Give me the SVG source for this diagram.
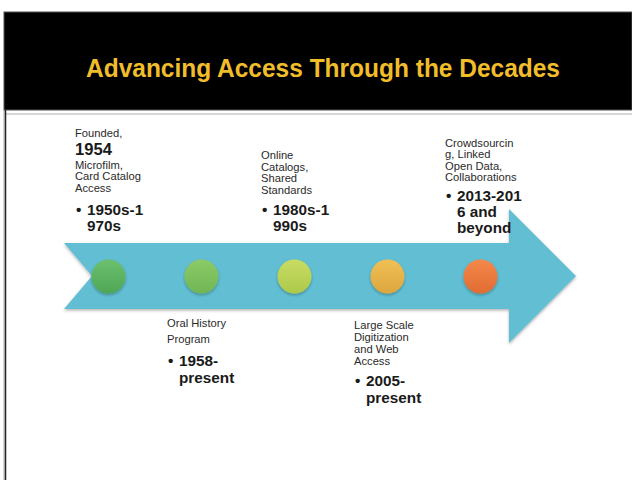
<svg xmlns="http://www.w3.org/2000/svg" width="632" height="480" viewBox="0 0 632 480">
  <style>
    .t { font-family: "Liberation Sans", Arial, sans-serif; fill: #1a1a1a; }
    .s { font-size: 11.2px; fill: #2a2a2a; }
    .b { font-size: 15.3px; font-weight: bold; }
    .title { font-family: "Liberation Sans", Arial, sans-serif; font-size: 25.5px; font-weight: bold; fill: #F1BD2B; }
  </style>
  <defs>
    <filter id="shadow" x="-20%" y="-20%" width="140%" height="150%">
      <feDropShadow dx="0" dy="1.5" stdDeviation="1.5" flood-color="#000" flood-opacity="0.3"/>
    </filter>
    <linearGradient id="g1" x1="0" y1="0" x2="0" y2="1">
      <stop offset="0" stop-color="#6CC06E"/><stop offset="1" stop-color="#4EA655"/>
    </linearGradient>
    <linearGradient id="g2" x1="0" y1="0" x2="0" y2="1">
      <stop offset="0" stop-color="#8CCB66"/><stop offset="1" stop-color="#70B555"/>
    </linearGradient>
    <linearGradient id="g3" x1="0" y1="0" x2="0" y2="1">
      <stop offset="0" stop-color="#C8DC63"/><stop offset="1" stop-color="#ADC94A"/>
    </linearGradient>
    <linearGradient id="g4" x1="0" y1="0" x2="0" y2="1">
      <stop offset="0" stop-color="#F0C055"/><stop offset="1" stop-color="#DCA63E"/>
    </linearGradient>
    <linearGradient id="g5" x1="0" y1="0" x2="0" y2="1">
      <stop offset="0" stop-color="#F4884A"/><stop offset="1" stop-color="#E06C33"/>
    </linearGradient>
  </defs>

  <!-- slide background and header band -->
  <rect x="0" y="0" width="632" height="480" fill="#ffffff"/>
  <rect x="4" y="12" width="628" height="98" fill="#000000" stroke="#555" stroke-width="1"/>
  <rect x="6" y="113" width="626" height="2" fill="#d6d6d6"/>
  <line x1="4" y1="110" x2="4" y2="480" stroke="#aaaaaa" stroke-width="1"/>
  <line x1="5.5" y1="110" x2="5.5" y2="480" stroke="#222222" stroke-width="1.5"/>
  <text class="title" x="86" y="77" textLength="474" lengthAdjust="spacingAndGlyphs">Advancing Access Through the Decades</text>

  <!-- timeline arrow -->
  <g id="arrow">
    <path d="M64,243 L509,243 L509,209 L576,276 L509,343 L509,309 L64,309 L92,276 Z" fill="#62BFD3" filter="url(#shadow)"/>
  </g>

  <!-- milestone dots -->
  <g id="dots" filter="url(#shadow)">
    <circle cx="108.5" cy="276.5" r="17" fill="url(#g1)"/>
    <circle cx="201.5" cy="276.5" r="17" fill="url(#g2)"/>
    <circle cx="294.5" cy="276.5" r="17" fill="url(#g3)"/>
    <circle cx="387.5" cy="276.5" r="17" fill="url(#g4)"/>
    <circle cx="480.5" cy="276.5" r="17" fill="url(#g5)"/>
  </g>

  <g id="m1950s">
    <text class="t s" x="75" y="137">Founded,</text>
    <text class="t" x="75" y="155" style="font-size:16.6px;font-weight:bold">1954</text>
    <text class="t s" x="75" y="168.5">Microfilm,</text>
    <text class="t s" x="75" y="180">Card Catalog</text>
    <text class="t s" x="75" y="191.5">Access</text>
    <text class="t b" x="76" y="215">•</text>
    <text class="t b" x="87" y="215">1950s-1</text>
    <text class="t b" x="87" y="231">970s</text>
  </g>

  <g id="m1958">
    <text class="t s" x="167" y="327">Oral History</text>
    <text class="t s" x="167" y="343">Program</text>
    <text class="t b" x="168" y="366">•</text>
    <text class="t b" x="179" y="366">1958-</text>
    <text class="t b" x="179" y="383">present</text>
  </g>

  <g id="m1980s">
    <text class="t s" x="261" y="159">Online</text>
    <text class="t s" x="261" y="170.5">Catalogs,</text>
    <text class="t s" x="261" y="182">Shared</text>
    <text class="t s" x="261" y="193.5">Standards</text>
    <text class="t b" x="262" y="214.5">•</text>
    <text class="t b" x="273" y="214.5">1980s-1</text>
    <text class="t b" x="273" y="231">990s</text>
  </g>

  <g id="m2005">
    <text class="t s" x="354" y="329">Large Scale</text>
    <text class="t s" x="354" y="341">Digitization</text>
    <text class="t s" x="354" y="353">and Web</text>
    <text class="t s" x="354" y="365">Access</text>
    <text class="t b" x="355" y="386">•</text>
    <text class="t b" x="366" y="386">2005-</text>
    <text class="t b" x="366" y="402.5">present</text>
  </g>

  <g id="m2013">
    <text class="t s" x="445" y="146.5">Crowdsourcin</text>
    <text class="t s" x="445" y="158">g, Linked</text>
    <text class="t s" x="445" y="169.5">Open Data,</text>
    <text class="t s" x="445" y="181">Collaborations</text>
    <text class="t b" x="446" y="201">•</text>
    <text class="t b" x="457" y="201">2013-201</text>
    <text class="t b" x="457" y="217">6 and</text>
    <text class="t b" x="457" y="233">beyond</text>
  </g>
</svg>
